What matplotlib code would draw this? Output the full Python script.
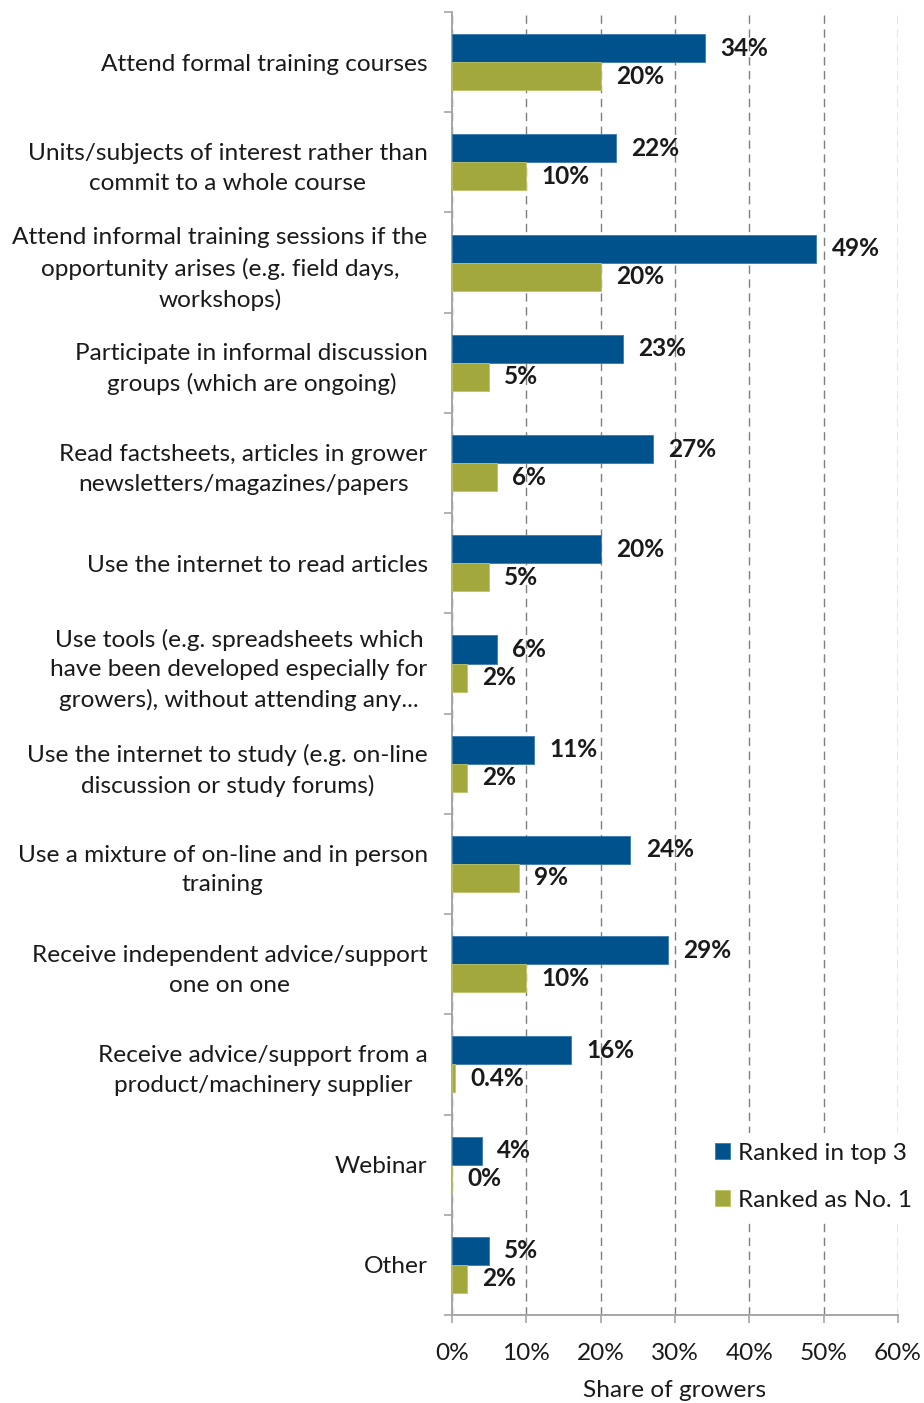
import numpy as np
import matplotlib
matplotlib.use("Agg")
import matplotlib.pyplot as plt
from matplotlib.ticker import PercentFormatter

plt.rcParams['font.family'] = ['Lato', 'DejaVu Sans']

categories = [
    "Attend formal training courses",
    "Units/subjects of interest rather than\ncommit to a whole course",
    "Attend informal training sessions if the\nopportunity arises (e.g. field days,\nworkshops)",
    "Participate in informal discussion\ngroups (which are ongoing)",
    "Read factsheets, articles in grower\nnewsletters/magazines/papers",
    "Use the internet to read articles",
    "Use tools (e.g. spreadsheets which\nhave been developed especially for\ngrowers), without attending any...",
    "Use the internet to study (e.g. on-line\ndiscussion or study forums)",
    "Use a mixture of on-line and in person\ntraining",
    "Receive independent advice/support\none on one",
    "Receive advice/support from a\nproduct/machinery supplier",
    "Webinar",
    "Other",
]
ranked_top3 = [34, 22, 49, 23, 27, 20, 6, 11, 24, 29, 16, 4, 5]
ranked_no1 = [20, 10, 20, 5, 6, 5, 2, 2, 9, 10, 0.4, 0, 2]
top3_labels = ["34%", "22%", "49%", "23%", "27%", "20%", "6%", "11%", "24%", "29%", "16%", "4%", "5%"]
no1_labels = ["20%", "10%", "20%", "5%", "6%", "5%", "2%", "2%", "9%", "10%", "0.4%", "0%", "2%"]
series_names = ["Ranked in top 3", "Ranked as No. 1"]
x_ticks = [0, 10, 20, 30, 40, 50, 60]
x_title = "Share of growers"

blue = "#00528C"
green = "#A3A83C"
axis_grey = "#A6A6A6"
text_col = "#1A1A1A"
fs = 17.6

fig = plt.figure(figsize=(9.24, 14.03), dpi=100)
ax = fig.add_axes([452 / 924, 1 - 1315 / 1403, 446 / 924, 1303 / 1403])

n = len(categories)
y = np.arange(n)
h = 0.28

b1 = ax.barh(y - h / 2, ranked_top3, height=h, color=blue, edgecolor="#3A7AB0",
             linewidth=0.6, label=series_names[0], zorder=3)
b2 = ax.barh(y + h / 2, ranked_no1, height=h, color=green, edgecolor="#BFC36A",
             linewidth=0.6, label=series_names[1], zorder=3)

for rect, lab in zip(b1, top3_labels):
    ax.annotate(lab, (rect.get_width(), rect.get_y() + rect.get_height() / 2),
                xytext=(11, 0), textcoords="offset points", va="center", ha="left",
                fontsize=fs, fontweight="bold", color=text_col, zorder=5)
for rect, lab in zip(b2, no1_labels):
    ax.annotate(lab, (rect.get_width(), rect.get_y() + rect.get_height() / 2),
                xytext=(11, 0), textcoords="offset points", va="center", ha="left",
                fontsize=fs, fontweight="bold", color=text_col, zorder=5)

ax.set_xlim(0, 60)
ax.set_ylim(n - 0.5, -0.5)

# category separators as major ticks, names on minor ticks
ax.set_yticks(np.arange(n + 1) - 0.5)
ax.set_yticklabels([])
ax.set_yticks(y, minor=True)
ax.set_yticklabels(categories, minor=True, fontsize=fs, color=text_col,
                   multialignment="center", linespacing=1.5)
ax.tick_params(axis="y", which="minor", length=0, pad=17.5)
ax.tick_params(axis="y", which="major", length=6, color=axis_grey, width=1.2)

ax.set_xticks(x_ticks)
ax.xaxis.set_major_formatter(PercentFormatter(decimals=0))
ax.tick_params(axis="x", length=6, color=axis_grey, width=1.2, pad=14,
               labelsize=fs, labelcolor=text_col)
ax.set_xlabel(x_title, fontsize=fs, color=text_col, labelpad=12)

for s in ["top", "right"]:
    ax.spines[s].set_visible(False)
for s in ["left", "bottom"]:
    ax.spines[s].set_color(axis_grey)
    ax.spines[s].set_linewidth(1.4)

ax.grid(axis="x", color="#7F7F7F", linestyle=(0, (6, 4)), linewidth=1.0, zorder=0)
ax.set_axisbelow(True)

leg = ax.legend(handles=[b1, b2], loc="upper left", bbox_to_anchor=(0.54, 0.149),
                frameon=True, fontsize=fs, handlelength=0.6, handleheight=0.6,
                handletextpad=0.35, labelspacing=1.05, borderpad=0.4)
leg.get_frame().set_edgecolor("none")
leg.get_frame().set_facecolor("white")
leg.get_frame().set_alpha(1)
leg.set_zorder(6)
for t in leg.get_texts():
    t.set_color(text_col)

fig.savefig("out.png", dpi=100, facecolor="white")
